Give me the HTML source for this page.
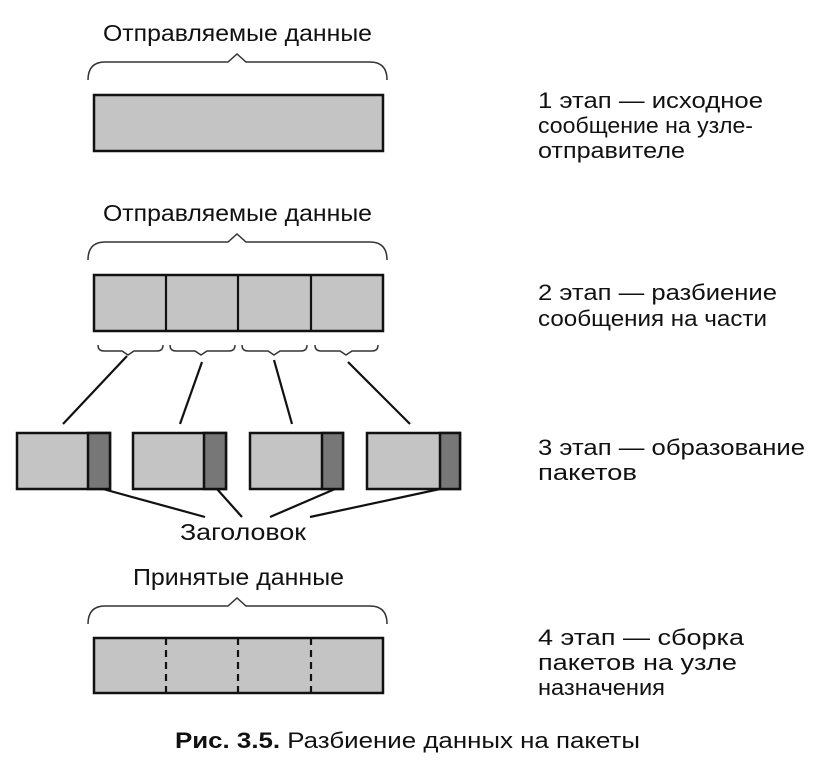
<!DOCTYPE html>
<html><head><meta charset="utf-8"><style>
body{margin:0;background:#fff;width:825px;height:759px;overflow:hidden}
svg text{font-family:"Liberation Sans",sans-serif;fill:#111}
</style></head><body>
<svg width="825" height="759" viewBox="0 0 825 759" xmlns="http://www.w3.org/2000/svg">
<g font-size="23">
<text x="103" y="41" textLength="269" lengthAdjust="spacingAndGlyphs">Отправляемые данные</text>
<text x="103" y="221" textLength="269" lengthAdjust="spacingAndGlyphs">Отправляемые данные</text>
<text x="133" y="585" textLength="211" lengthAdjust="spacingAndGlyphs">Принятые данные</text>
<text x="180" y="540" textLength="126" lengthAdjust="spacingAndGlyphs">Заголовок</text>
</g>
<g fill="none" stroke="#333" stroke-width="1.5">
<path d="M88,80 Q88,62 105,62 L228,62 L237,54 L246,62 L370,62 Q387,62 387,80"/>
<path d="M88,260 Q88,242 105,242 L228,242 L237,234 L246,242 L370,242 Q387,242 387,260"/>
<path d="M88,624 Q88,606 105,606 L228,606 L237,598 L246,606 L370,606 Q387,606 387,624"/>
<path d="M98,345 Q98,351 104,351 L122,351 L128,355 L134,351 L157,351 Q163,351 163,345"/>
<path d="M170,345 Q170,351 176,351 L195,351 L201,355 L207,351 L229,351 Q235,351 235,345"/>
<path d="M242,345 Q242,351 248,351 L268,351 L274,355 L280,351 L301,351 Q307,351 307,345"/>
<path d="M315,345 Q315,351 321,351 L340,351 L346,355 L352,351 L372,351 Q378,351 378,345"/>
</g>
<g fill="#c4c4c4" stroke="#111" stroke-width="2.5">
<rect x="94" y="95" width="289" height="56"/>
<rect x="94" y="275" width="289" height="56"/>
<rect x="94" y="638" width="289" height="55"/>
<rect x="17" y="433" width="93" height="56"/>
<rect x="133" y="433" width="93" height="56"/>
<rect x="250" y="433" width="93" height="56"/>
<rect x="367" y="433" width="93" height="56"/>
</g>
<g fill="#777" stroke="#111" stroke-width="2.5">
<rect x="88" y="433" width="22" height="56"/>
<rect x="204" y="433" width="22" height="56"/>
<rect x="322" y="433" width="21" height="56"/>
<rect x="440" y="433" width="20" height="56"/>
</g>
<g stroke="#111" stroke-width="2.2" fill="none">
<line x1="166" y1="275" x2="166" y2="331"/><line x1="238" y1="275" x2="238" y2="331"/><line x1="311" y1="275" x2="311" y2="331"/>
<g stroke-dasharray="7,5"><line x1="166" y1="638" x2="166" y2="693"/><line x1="238" y1="638" x2="238" y2="693"/><line x1="311" y1="638" x2="311" y2="693"/></g>
<line x1="127" y1="356" x2="63" y2="424"/><line x1="202" y1="362" x2="180" y2="424"/><line x1="274" y1="360" x2="292" y2="424"/><line x1="348" y1="362" x2="410" y2="424"/>
<line x1="103" y1="489" x2="205" y2="517"/><line x1="217" y1="489" x2="242" y2="517"/><line x1="335" y1="489" x2="270" y2="517"/><line x1="440" y1="489" x2="310" y2="517"/>
</g>
<g font-size="22">
<text x="538" y="108" textLength="225" lengthAdjust="spacingAndGlyphs">1 этап — исходное</text>
<text x="538" y="133" textLength="215" lengthAdjust="spacingAndGlyphs">сообщение на узле-</text>
<text x="538" y="158" textLength="147" lengthAdjust="spacingAndGlyphs">отправителе</text>
<text x="538" y="300" textLength="239" lengthAdjust="spacingAndGlyphs">2 этап — разбиение</text>
<text x="538" y="326" textLength="229" lengthAdjust="spacingAndGlyphs">сообщения на части</text>
<text x="538" y="455" textLength="267" lengthAdjust="spacingAndGlyphs">3 этап — образование</text>
<text x="538" y="480" textLength="99" lengthAdjust="spacingAndGlyphs">пакетов</text>
<text x="538" y="645" textLength="206" lengthAdjust="spacingAndGlyphs">4 этап — сборка</text>
<text x="538" y="670" textLength="199" lengthAdjust="spacingAndGlyphs">пакетов на узле</text>
<text x="538" y="695" textLength="127" lengthAdjust="spacingAndGlyphs">назначения</text>
</g>
<text x="175" y="748" font-size="22" textLength="465" lengthAdjust="spacingAndGlyphs"><tspan font-weight="bold">Рис. 3.5.</tspan> Разбиение данных на пакеты</text>
</svg>
</body></html>
